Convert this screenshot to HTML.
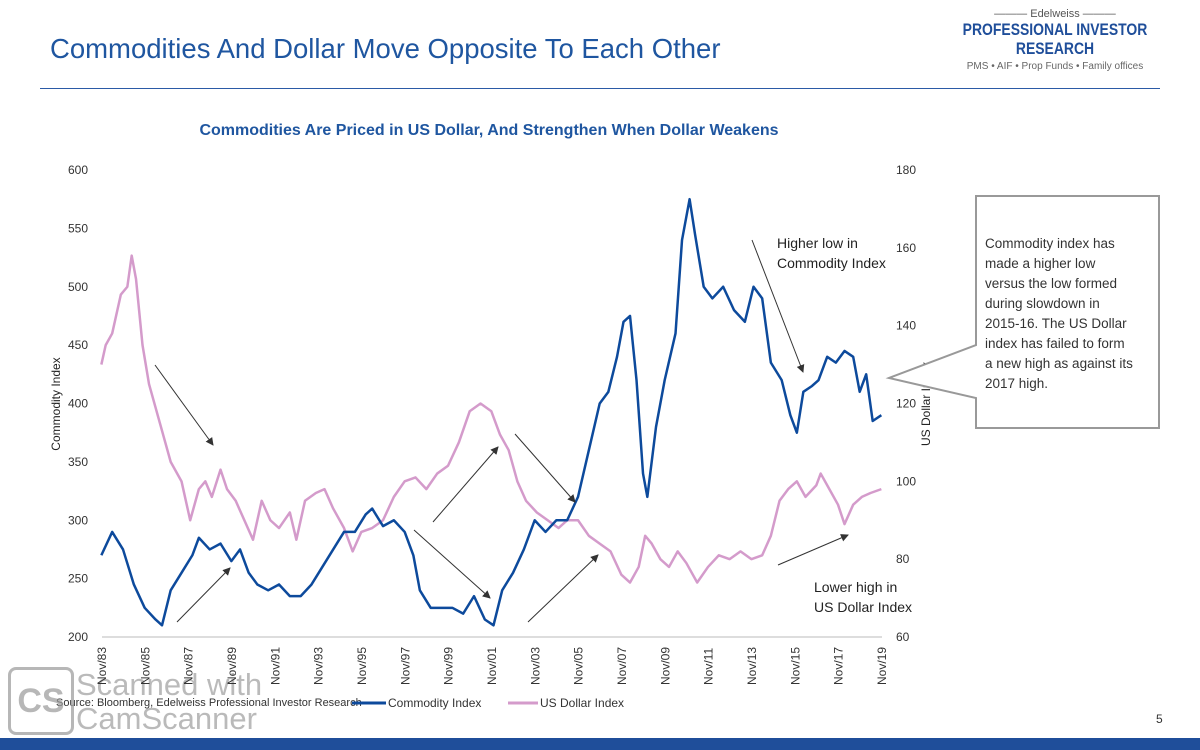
<!DOCTYPE html>
<html><head><meta charset="utf-8"><style>
body{margin:0;width:1200px;height:750px;background:#fff;font-family:"Liberation Sans",sans-serif;overflow:hidden;position:relative}
.abs{position:absolute}
</style></head><body>
<div class="abs" style="left:50px;top:33px;font-size:27.5px;color:#1f56a0;white-space:nowrap">Commodities And Dollar Move Opposite To Each Other</div>
<div class="abs" style="left:40px;top:88px;width:1120px;height:1px;background:#2b5aa6"></div>
<div class="abs" style="left:940px;top:8px;width:230px;text-align:center;color:#1f4e9a;white-space:nowrap">
 <div style="font-size:11px;color:#555">——— Edelweiss ———</div>
 <div style="font-size:17px;font-weight:bold;line-height:19px;transform:scaleX(0.82)">PROFESSIONAL INVESTOR</div>
 <div style="font-size:17px;font-weight:bold;line-height:19px;transform:scaleX(0.82)">RESEARCH</div>
 <div style="font-size:10px;color:#666;margin-top:3px">PMS • AIF • Prop Funds • Family offices</div>
</div>
<div class="abs" style="left:0;top:738px;width:1200px;height:12px;background:#1f4e9a"></div>
<div class="abs" style="left:1156px;top:712px;font-size:12px;color:#333">5</div>
<div class="abs" style="left:56px;top:697px;font-size:11px;color:#333;white-space:nowrap">Source: Bloomberg, Edelweiss Professional Investor Research</div>
<div class="abs" style="left:8px;top:667px;width:60px;height:62px;border:3px solid #999;border-radius:8px;color:#999;font-size:34px;font-weight:bold;line-height:62px;text-align:center;opacity:.7">CS</div>
<div class="abs" style="left:76px;top:668px;font-size:31px;color:#aaa;line-height:34px;opacity:.8">Scanned with<br>CamScanner</div>
<svg class="abs" style="left:0;top:0" width="1200" height="750">
<text x="489" y="135" text-anchor="middle" font-size="16" font-weight="bold" fill="#1f56a0">Commodities Are Priced in US Dollar, And Strengthen When Dollar Weakens</text>
<g id="axes"></g>
<g id="series"></g>
<g id="notes" font-size="14" fill="#222">
<text x="777" y="248">Higher low in</text>
<text x="777" y="268">Commodity Index</text>
<text x="814" y="592">Lower high in</text>
<text x="814" y="612">US Dollar Index</text>
</g>
<g>
<path d="M976,196 H1159 V428 H976 V398 L889,378 L976,345 Z" fill="#fff" stroke="#999" stroke-width="2"/>
<text font-size="13.5" fill="#333">
<tspan x="985" y="248">Commodity index has</tspan>
<tspan x="985" y="268">made a higher low</tspan>
<tspan x="985" y="288">versus the low formed</tspan>
<tspan x="985" y="308">during slowdown in</tspan>
<tspan x="985" y="328">2015-16. The US Dollar</tspan>
<tspan x="985" y="348">index has failed to form</tspan>
<tspan x="985" y="368">a new high as against its</tspan>
<tspan x="985" y="388">2017 high.</tspan>
</text></g>
<g font-size="12" fill="#333">
<line x1="352" y1="703" x2="386" y2="703" stroke="#0d4a9c" stroke-width="3"/>
<text x="388" y="707">Commodity Index</text>
<line x1="508" y1="703" x2="538" y2="703" stroke="#d49bcb" stroke-width="3"/>
<text x="540" y="707">US Dollar Index</text>
</g>
</svg>
<script>
const leftTicks=[200,250,300,350,400,450,500,550,600];
const rightTicks=[60,80,100,120,140,160,180];
const xTickYears=[1983,1985,1987,1989,1991,1993,1995,1997,1999,2001,2003,2005,2007,2009,2011,2013,2015,2017,2019];
const commYears=[1983.8,1984.3,1984.8,1985.3,1985.8,1986.3,1986.6,1987,1987.5,1988,1988.3,1988.8,1989.3,1989.8,1990.2,1990.6,1991,1991.5,1992,1992.5,1993,1993.5,1994,1994.5,1995,1995.5,1996,1996.3,1996.8,1997.3,1997.8,1998.2,1998.5,1999,1999.5,2000,2000.5,2001,2001.5,2001.9,2002.3,2002.8,2003.3,2003.8,2004.3,2004.8,2005.3,2005.8,2006.3,2006.8,2007.2,2007.6,2007.9,2008.2,2008.5,2008.8,2009.0,2009.4,2009.8,2010.3,2010.6,2010.95,2011.2,2011.6,2012.0,2012.5,2013.0,2013.5,2013.9,2014.3,2014.7,2015.2,2015.6,2015.9,2016.2,2016.6,2016.9,2017.3,2017.7,2018.1,2018.5,2018.8,2019.1,2019.4,2019.8];
const commValues=[270,290,275,245,225,215,210,240,255,270,285,275,280,265,275,255,245,240,245,235,235,245,260,275,290,290,305,310,295,300,290,270,240,225,225,225,220,235,215,210,240,255,275,300,290,300,300,320,360,400,410,440,470,475,420,340,320,380,420,460,540,575,545,500,490,500,480,470,500,490,435,420,390,375,410,415,420,440,435,445,440,410,425,385,390];
const usdYears=[1983.8,1984.0,1984.3,1984.7,1985.0,1985.2,1985.4,1985.7,1986,1986.5,1987,1987.5,1987.9,1988.3,1988.6,1988.9,1989.3,1989.6,1990,1990.4,1990.8,1991.2,1991.6,1992,1992.5,1992.8,1993.2,1993.7,1994.1,1994.5,1995.0,1995.4,1995.8,1996.3,1996.8,1997.3,1997.8,1998.3,1998.8,1999.3,1999.8,2000.3,2000.8,2001.3,2001.8,2002.2,2002.6,2003.0,2003.4,2003.9,2004.4,2004.9,2005.3,2005.8,2006.3,2006.8,2007.3,2007.8,2008.2,2008.6,2008.9,2009.2,2009.6,2010.0,2010.4,2010.8,2011.3,2011.8,2012.3,2012.8,2013.3,2013.8,2014.3,2014.7,2015.1,2015.5,2015.9,2016.3,2016.8,2017.0,2017.4,2017.8,2018.1,2018.5,2018.9,2019.3,2019.8];
const usdValues=[130,135,138,148,150,158,152,135,125,115,105,100,90,98,100,96,103,98,95,90,85,95,90,88,92,85,95,97,98,93,88,82,87,88,90,96,100,101,98,102,104,110,118,120,118,112,108,100,95,92,90,88,90,90,86,84,82,76,74,78,86,84,80,78,82,79,74,78,81,80,82,80,81,86,95,98,100,96,99,102,98,94,89,94,96,97,98];
const X0=102,X1=882,T0=1983.83,T1=2019.83,YT=170,YB=637;
const xs=t=>X0+(t-T0)/(T1-T0)*(X1-X0);
const yl=v=>YB-(v-200)/400*(YB-YT);
const yr=v=>YB-(v-60)/120*(YB-YT);
const NS='http://www.w3.org/2000/svg';
function mk(tag,attrs,parent,txt){const e=document.createElementNS(NS,tag);for(const k in attrs)e.setAttribute(k,attrs[k]);if(txt!=null)e.textContent=txt;parent.appendChild(e);return e;}
const ax=document.getElementById('axes');
leftTicks.forEach(v=>{const t=mk('text',{x:88,y:yl(v)+4,'text-anchor':'end','font-size':12,fill:'#333'},ax,v);

});
rightTicks.forEach(v=>{const t=mk('text',{x:896,y:yr(v)+4,'font-size':12,fill:'#333'},ax,v);

});
mk('line',{x1:X0,y1:YB,x2:X1,y2:YB,stroke:'#bbb'},ax);
xTickYears.forEach(yr0=>{const x=xs(yr0+0.83);const t=mk('text',{x:0,y:0,transform:`translate(${x+4},${YB+48}) rotate(-90)`,'font-size':12,fill:'#333'},ax,'Nov/'+String(yr0).slice(2));

});
const lt=mk('text',{x:0,y:0,transform:'translate(60,404) rotate(-90)','text-anchor':'middle','font-size':12,fill:'#222'},ax,'Commodity Index');


const rt=mk('text',{x:0,y:0,transform:'translate(930,404) rotate(-90)','text-anchor':'middle','font-size':12,fill:'#222'},ax,'US Dollar Index');


const sg=document.getElementById('series');
const pu=mk('polyline',{points:usdYears.map((t,i)=>xs(t)+','+yr(usdValues[i])).join(' '),fill:'none',stroke:'#d49bcb','stroke-width':2.5,'stroke-linejoin':'round'},sg);


const pc=mk('polyline',{points:commYears.map((t,i)=>xs(t)+','+yl(commValues[i])).join(' '),fill:'none',stroke:'#0d4a9c','stroke-width':2.5,'stroke-linejoin':'round'},sg);


const arrows=[[155,365,213,445],[177,622,230,568],[414,530,490,598],[433,522,498,447],[515,434,575,502],[528,622,598,555],[752,240,803,372],[778,565,848,535]];
const ag=document.getElementById('notes');
mk('marker',{id:'ah',markerWidth:8,markerHeight:8,refX:7,refY:4,orient:'auto'},mk('defs',{},ag));
mk('path',{d:'M0,0 L8,4 L0,8 Z',fill:'#333'},document.getElementById('ah'));
arrows.forEach(a=>{const l=mk('line',{x1:a[0],y1:a[1],x2:a[2],y2:a[3],stroke:'#333','stroke-width':1,'marker-end':'url(#ah)'},ag);

});
</script>
</body></html>
